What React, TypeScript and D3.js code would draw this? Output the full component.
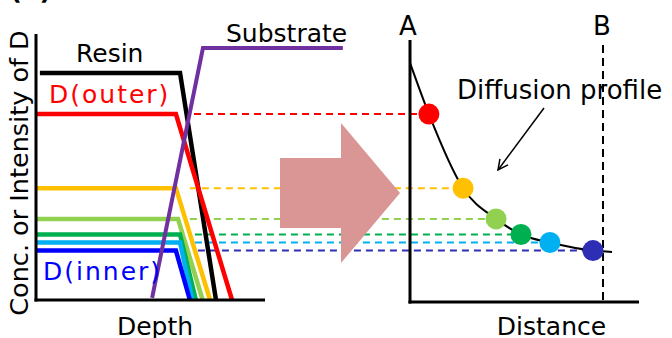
import React from "react";
import * as d3 from "d3";

// ---- data (arbitrary units) ----
const layerNames = ["D(outer)", "layer 2", "layer 3", "layer 4", "layer 5", "D(inner)"];
const layerLineColors = ["#FF0000", "#FFC000", "#92D050", "#00B050", "#00B0F0", "#0000FF"];
const layerDotColors = ["#FF0000", "#FFC000", "#92D050", "#00B050", "#00B0F0", "#2E2EB4"];
const layerConc = [0.715, 0.43, 0.312, 0.252, 0.221, 0.19];
const layerStartDepth = [0, 0, 0, 0, 0, 0];
const layerKneeDepth = [61.1, 61.1, 62.0, 62.9, 62.9, 61.1];
const layerEndDepth = [85.6, 76.0, 72.8, 69.8, 68.3, 67.2];
const layerDistance = [0.098, 0.275, 0.446, 0.575, 0.725, 0.948];
const dashStartDepth = [69.0, 67.2, 67.2, 69.4, 69.4, 70.7];

const resinDepth = [1.7, 62.9, 78.6];
const resinConc = [0.873, 0.873, 0];
const substrateDepth = [50.7, 72.9, 134];
const substrateConc = [0.008, 0.969, 0.969];

const profileDist = [0, 0.098, 0.275, 0.446, 0.575, 0.725, 0.948, 1.047];
const profileConc = [0.912, 0.715, 0.43, 0.312, 0.252, 0.221, 0.19, 0.185];

const FONT = "DejaVu Sans, Verdana, sans-serif";

export default function App() {
  const W = 672, H = 338;
  const depthX = d3.scaleLinear().domain([0, 100]).range([36, 265]);
  const concY = d3.scaleLinear().domain([0, 1]).range([300, 40]);
  const distX = d3.scaleLinear().domain([0, 1]).range([410, 603]);

  const depthLine = d3
    .line<[number, number]>()
    .x((d) => depthX(d[0]))
    .y((d) => concY(d[1]));

  const profileLine = d3
    .line<[number, number]>()
    .x((d) => distX(d[0]))
    .y((d) => concY(d[1]))
    .curve(d3.curveMonotoneX);

  const resinPath = depthLine(resinDepth.map((d, i) => [d, resinConc[i]]));
  const substratePath = depthLine(substrateDepth.map((d, i) => [d, substrateConc[i]]));
  const profilePath = profileLine(profileDist.map((d, i) => [d, profileConc[i]]));

  // big arrow (decorative shape)
  const ax0 = 280, ax1 = 341, axTip = 400, ayc = 193;
  const arrowPts = [
    [ax0, ayc - 35], [ax1, ayc - 35], [ax1, ayc - 70], [axTip, ayc],
    [ax1, ayc + 70], [ax1, ayc + 35], [ax0, ayc + 35],
  ].map((p) => p.join(",")).join(" ");

  return (
    <svg width={W} height={H} style={{ position: "absolute", left: 0, top: 0, background: "#fff" }}>
      <defs>
        <marker id="openArrow" viewBox="0 0 12 12" refX="11" refY="6" markerWidth="12" markerHeight="12"
          markerUnits="userSpaceOnUse" orient="auto">
          <path d="M1,1 L11,6 L1,11" fill="none" stroke="#000" strokeWidth={1.5} />
        </marker>
      </defs>

      {/* clipped title */}
      <text x={10} y={-1} fontFamily={FONT} fontWeight="bold" fontSize={26}>(a)</text>

      {/* y axis label */}
      <text transform={`translate(28,${173}) rotate(-90)`} textAnchor="middle" fontFamily={FONT} fontSize={25.5}>
        Conc. or Intensity of D
      </text>

      {/* dashed guide lines */}
      {layerNames.map((n, i) => (
        <line key={"dash" + i} x1={depthX(dashStartDepth[i])} x2={distX(layerDistance[i])}
          y1={concY(layerConc[i])} y2={concY(layerConc[i])}
          stroke={i === 5 ? layerDotColors[i] : layerLineColors[i]} strokeWidth={2} strokeDasharray="7,5" />
      ))}

      {/* left panel lines */}
      <path d={resinPath ?? ""} fill="none" stroke="#000" strokeWidth={4.5} strokeLinejoin="miter" />
      {layerNames.map((n, i) => {
        const p = depthLine([
          [layerStartDepth[i], layerConc[i]],
          [layerKneeDepth[i], layerConc[i]],
          [layerEndDepth[i], 0],
        ]);
        return <path key={"l" + i} d={p ?? ""} fill="none" stroke={layerLineColors[i]} strokeWidth={4.5} />;
      })}
      <path d={substratePath ?? ""} fill="none" stroke="#7030A0" strokeWidth={4} />

      {/* left axes */}
      <line x1={depthX(0)} x2={depthX(0)} y1={34} y2={concY(0) + 1.5} stroke="#000" strokeWidth={3} />
      <line x1={depthX(0) - 1.5} x2={depthX(100)} y1={concY(0)} y2={concY(0)} stroke="#000" strokeWidth={3} />

      {/* left labels */}
      <text x={76} y={62} fontFamily={FONT} fontSize={25}>Resin</text>
      <text x={226} y={42} fontFamily={FONT} fontSize={25}>Substrate</text>
      <text x={49} y={103} fontFamily={FONT} fontSize={25} fill="#FF0000" letterSpacing={2}>D(outer)</text>
      <text x={43} y={280} fontFamily={FONT} fontSize={25} fill="#0000FF" letterSpacing={2}>D(inner)</text>
      <text x={155} y={335} textAnchor="middle" fontFamily={FONT} fontSize={25}>Depth</text>

      {/* big arrow */}
      <polygon points={arrowPts} fill="#D99694" />

      {/* right panel */}
      <line x1={distX(1)} x2={distX(1)} y1={45} y2={302} stroke="#000" strokeWidth={2} strokeDasharray="8,5" />
      <line x1={distX(0)} x2={distX(0)} y1={40} y2={303.5} stroke="#000" strokeWidth={3} />
      <line x1={distX(0) - 1.5} x2={639} y1={302} y2={302} stroke="#000" strokeWidth={3} />
      <path d={profilePath ?? ""} fill="none" stroke="#000" strokeWidth={2} />
      {layerNames.map((n, i) => (
        <circle key={"c" + i} cx={distX(layerDistance[i])} cy={concY(layerConc[i])} r={10.5}
          fill={layerDotColors[i]} />
      ))}

      <text x={distX(0) - 2} y={35} textAnchor="middle" fontFamily={FONT} fontSize={26}>A</text>
      <text x={distX(1) - 1} y={35} textAnchor="middle" fontFamily={FONT} fontSize={26}>B</text>
      <text x={457} y={99} fontFamily={FONT} fontSize={26}>Diffusion profile</text>
      <line x1={544} y1={108} x2={498} y2={170} stroke="#000" strokeWidth={1.5} markerEnd="url(#openArrow)" />
      <text x={551.5} y={335} textAnchor="middle" fontFamily={FONT} fontSize={25}>Distance</text>
    </svg>
  );
}
